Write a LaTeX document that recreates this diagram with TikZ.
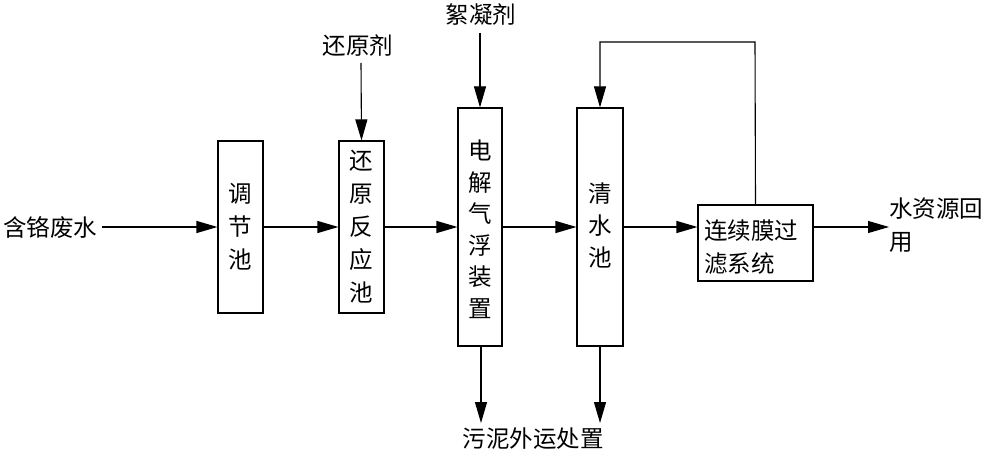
\documentclass[tikz,border=0pt]{standalone}
\usepackage{fontspec}
\setmainfont{Noto Sans CJK SC}
\usetikzlibrary{arrows.meta}
\begin{document}
\begin{tikzpicture}[x=1pt,y=-1pt,
  box/.style={draw, line width=1.1pt, inner sep=0pt},
  lbl/.style={font=\fontsize{23.5}{33}\selectfont, inner sep=0pt, align=center},
  flow/.style={line width=1.1pt, -{Triangle[length=21pt,width=12pt]}},
  plain/.style={line width=1.1pt}]
\useasboundingbox (0,0) rectangle (990,457);
% boxes
\node[box, minimum width=45pt, minimum height=172pt] (b1) at (240.5,227) {};
\node[lbl] at (b1) {调\\节\\池};
\node[box, minimum width=45pt, minimum height=172pt] (b2) at (361.5,227) {};
\node[lbl] at (b2) {还\\原\\反\\应\\池};
\node[box, minimum width=44pt, minimum height=238pt] (b3) at (480,227) {};
\node[lbl, font=\fontsize{23.5}{31.5}\selectfont] at (480,229) {电\\解\\气\\浮\\装\\置};
\node[box, minimum width=46pt, minimum height=238pt] (b4) at (600,227) {};
\node[lbl, font=\fontsize{23.5}{32}\selectfont] at (600,225) {清\\水\\池};
\node[box, minimum width=115pt, minimum height=76pt] (b5) at (755.5,243) {};
\node[lbl, align=left, anchor=west] at (704,247) {连续膜过\\滤系统};
% texts
\node[lbl, anchor=west] (in) at (3,227) {含铬废水};
\node[lbl] (r) at (358,46) {还原剂};
\node[lbl] (f) at (481,15) {絮凝剂};
\node[lbl] (s) at (533,439) {污泥外运处置};
\node[lbl, align=left, anchor=north west] (w) at (889,198) {水资源回\\用};
\coordinate (wa) at (889,227);
% flows
\draw[flow] ([xshift=5pt]in.east) -- (b1.west);
\draw[flow] (b1.east) -- (b2.west);
\draw[flow] (b2.east) -- (b3.west |- b2.east);
\draw[flow] (b3.east |- b2.east) -- (b4.west |- b2.east);
\draw[flow] (b4.east |- b2.east) -- (b5.west |- b2.east);
\draw[flow] (b5.east |- b2.east) -- (wa);
\draw[flow] (361,63) -- (b2.north);
\draw[flow] (480,33) -- (b3.north);
\draw[flow] (b5.north) -- (755,42) -| (b4.north);
\coordinate (s1) at (481,423);
\coordinate (s2) at (600,423);
\draw[flow] (b3.south -| s1) -- (s1);
\draw[flow] (b4.south) -- (s2);
\end{tikzpicture}
\end{document}
